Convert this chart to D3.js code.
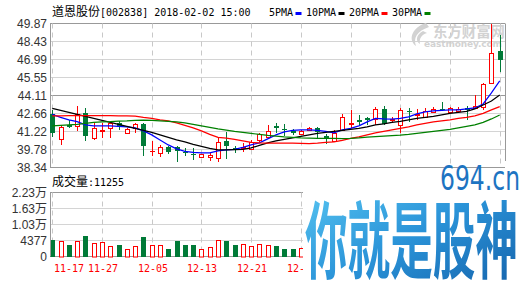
<!DOCTYPE html>
<html>
<head>
<meta charset="utf-8">
<script src="https://cdn.jsdelivr.net/npm/d3@7"></script>
<style>
body { margin: 0; background: #fff; }
</style>
</head>
<body>
<div id="chart"></div>
<script>
var dates = ["11-17","11-20","11-21","11-22","11-23","11-24","11-27","11-28","11-29","11-30",
  "12-01","12-04","12-05","12-06","12-07","12-08","12-11","12-12","12-13","12-14",
  "12-15","12-18","12-19","12-20","12-21","12-22","12-25","12-26","12-27","12-28",
  "12-29","01-02","01-03","01-04","01-05","01-08","01-09","01-10","01-11","01-12",
  "01-15","01-16","01-17","01-18","01-19","01-22","01-23","01-24","01-25","01-26",
  "01-29","01-30","01-31","02-01","02-02"];

var open  = [42.63,40.61,41.75,41.67,42.69,40.69,41.27,41.49,41.91,41.11,
  41.49,41.81,39.65,39.49,40.01,39.95,39.60,39.40,39.17,39.17,
  39.09,40.47,39.90,39.92,39.85,40.53,40.79,41.67,41.43,41.27,
  41.05,41.35,41.49,40.87,40.45,41.35,41.81,42.15,42.29,42.23,
  43.03,42.13,41.75,42.90,42.53,42.41,42.81,43.03,42.81,42.87,
  43.13,43.09,43.21,45.13,47.69];
var high  = [42.95,41.75,42.15,43.27,43.09,41.89,41.89,42.01,42.09,41.50,
  41.90,41.90,40.47,40.15,40.05,40.10,39.90,39.90,39.45,39.53,
  40.69,41.21,40.07,40.30,40.55,41.11,41.75,41.93,41.81,41.43,
  41.35,41.55,41.55,41.00,41.35,42.61,42.95,42.51,42.35,43.21,
  43.29,42.39,43.09,43.13,43.01,43.09,43.15,43.61,43.20,43.15,
  43.27,44.15,45.10,49.80,48.95];
var low   = [40.79,40.15,41.51,41.29,40.49,40.55,40.69,40.69,41.35,41.05,
  41.09,39.27,39.27,39.21,39.45,38.81,39.25,38.95,39.10,38.89,
  38.81,39.01,39.49,39.57,39.75,40.39,40.71,41.09,40.87,40.93,
  40.95,41.30,40.73,40.20,40.40,41.27,41.49,41.67,41.75,41.75,
  41.75,41.91,41.09,42.01,42.15,42.29,42.70,42.85,42.75,42.69,
  42.15,43.01,42.95,45.03,46.01];
var close = [41.13,41.57,41.61,42.63,40.89,41.49,41.35,41.89,41.55,41.43,
  41.81,40.09,39.70,39.97,39.55,39.63,39.55,39.36,39.41,39.35,
  40.37,40.09,39.85,39.97,40.37,41.01,41.27,41.53,41.35,41.09,
  41.27,41.49,41.21,40.61,41.11,42.41,41.87,41.99,42.17,43.03,
  41.81,42.21,42.93,42.83,42.61,42.87,43.03,42.91,43.09,43.00,
  42.95,43.29,45.03,47.49,46.95];

var ma5  = [42.59,42.35,42.15,42.01,41.75,41.67,41.67,41.67,41.63,41.59,
  41.51,41.27,40.95,40.55,40.15,39.83,39.63,39.55,39.51,39.51,
  39.67,39.75,39.79,39.95,40.15,40.31,40.63,40.95,41.19,41.31,
  41.35,41.35,41.31,41.23,41.11,41.35,41.47,41.67,41.99,42.27,
  42.23,42.21,42.27,42.39,42.63,42.79,42.87,42.91,42.95,42.95,
  43.03,43.11,43.43,44.31,45.27];
var ma10 = [43.07,42.91,42.75,42.59,42.43,42.27,42.11,41.95,41.79,41.63,
  41.47,41.31,41.15,40.95,40.75,40.55,40.39,40.19,40.03,39.87,
  39.75,39.75,39.77,39.79,39.91,40.11,40.31,40.47,40.59,40.71,
  40.83,40.95,41.07,41.15,41.23,41.31,41.39,41.47,41.59,41.75,
  41.83,41.95,42.03,42.15,42.27,42.35,42.43,42.55,42.67,42.75,
  42.83,43.03,43.35,43.67,44.15];
var ma20 = [42.47,42.47,42.49,42.49,42.49,42.49,42.49,42.49,42.47,42.47,
  42.45,42.35,42.27,42.15,42.07,41.91,41.71,41.51,41.27,40.99,
  40.75,40.69,40.59,40.47,40.35,40.31,40.29,40.29,40.29,40.29,
  40.27,40.25,40.29,40.35,40.39,40.51,40.67,40.79,40.95,41.11,
  41.23,41.35,41.47,41.59,41.75,41.87,41.99,42.07,42.15,42.27,
  42.35,42.47,42.67,42.95,43.21];
var ma30 = [41.67,41.71,41.75,41.79,41.87,41.95,41.99,42.01,42.05,42.07,
  42.11,42.13,42.11,42.07,42.03,41.99,41.91,41.79,41.67,41.55,
  41.43,41.33,41.23,41.15,41.07,40.99,40.91,40.85,40.79,40.75,
  40.71,40.69,40.67,40.67,40.67,40.65,40.67,40.71,40.77,40.81,
  40.85,40.89,40.93,40.99,41.07,41.15,41.23,41.31,41.39,41.51,
  41.63,41.75,41.95,42.23,42.55];

// only the first 31 bars are visible, the rest sit under the watermark
var volume = [6280,5910,4430,5910,7500,5060,5430,4070,4430,2960,
  4070,7130,4430,4430,2960,5910,4180,4180,2960,3700,
  6280,5650,4180,4800,4070,4800,4180,3810,2960,2960,3220];
var lastVolume = 11255;

var priceTicks = [38.34, 39.78, 41.22, 42.66, 44.11, 45.55, 46.99, 48.43, 49.87];
var volTicks = [0, 5960, 11920, 17880, 23840];
var volTickLabels = ["0", "4377", "1.03万", "1.63万", "2.23万"];
var maNames = ["5PMA", "10PMA", "20PMA", "30PMA"];
var maColors = ["#0000ff", "#000000", "#ff0000", "#008000"];

var width = 529, height = 281;
var left = 50, right = 505, pTop = 23.5, pBottom = 167.5, vTop = 192.5, vBottom = 256.5;
var coverX = 303, coverY = 161;
var red = "#ff0000", green = "#007a37";
var mono = "'DejaVu Sans Mono', 'Liberation Mono', monospace";
var cjk = "'Noto Sans CJK SC', sans-serif";

var svg = d3.select("#chart").append("svg")
    .attr("width", width)
    .attr("height", height)
    .style("display", "block");

var x = d3.scalePoint().domain(dates).range([52.3, 499.7]);
var y = d3.scaleLinear().domain([38.34, 49.87]).range([pBottom, pTop]);
var yv = d3.scaleLinear().domain([0, 23840]).range([vBottom, vTop]);

var tickDates = dates.filter(function(d, i) { return i % 6 == 0; });

var defs = svg.append("defs");
defs.append("clipPath").attr("id", "lowclip")
  .append("rect").attr("x", 0).attr("y", coverY).attr("width", coverX).attr("height", height - coverY);

// grid - price panel
svg.selectAll(".hgrid").data(priceTicks).enter().append("line")
    .attr("x1", left).attr("x2", right)
    .attr("y1", function(d) { return Math.round(y(d) - 0.5) + 0.5; })
    .attr("y2", function(d) { return Math.round(y(d) - 0.5) + 0.5; })
    .attr("stroke", function(d, i) { return (i == 0 || i == 4 || i == 8) ? "#999" : "#d4d4d4"; });

svg.selectAll(".vgrid").data(tickDates).enter().append("line")
    .attr("x1", function(d) { return Math.round(x(d)) + 0.5; })
    .attr("x2", function(d) { return Math.round(x(d)) + 0.5; })
    .attr("y1", pTop).attr("y2", pBottom)
    .attr("stroke", "#c8c8c8")
    .attr("stroke-dasharray", "5,4");

// lower part: everything right of coverX is hidden by the watermark
var lowG = svg.append("g").attr("clip-path", "url(#lowclip)");

lowG.selectAll(".vhgrid").data(volTicks).enter().append("line")
    .attr("x1", left).attr("x2", right)
    .attr("y1", function(d) { return Math.round(yv(d) - 0.5) + 0.5; })
    .attr("y2", function(d) { return Math.round(yv(d) - 0.5) + 0.5; })
    .attr("stroke", function(d, i) { return (i == 0 || i == 4) ? "#999" : "#d4d4d4"; });

lowG.selectAll(".vvgrid").data(tickDates).enter().append("line")
    .attr("x1", function(d) { return Math.round(x(d)) + 0.5; })
    .attr("x2", function(d) { return Math.round(x(d)) + 0.5; })
    .attr("y1", vTop).attr("y2", vBottom)
    .attr("stroke", "#c8c8c8")
    .attr("stroke-dasharray", "5,4");

// panel borders
svg.append("line").attr("x1", left + 0.5).attr("x2", left + 0.5).attr("y1", pTop).attr("y2", pBottom).attr("stroke", "#999");
svg.append("line").attr("x1", right + 0.5).attr("x2", right + 0.5).attr("y1", pTop).attr("y2", coverY).attr("stroke", "#999");
svg.append("line").attr("x1", left + 0.5).attr("x2", left + 0.5).attr("y1", vTop).attr("y2", vBottom).attr("stroke", "#999");

// eastmoney logo
var logo = svg.append("g").attr("fill", "#d2d2d2");
logo.append("path").attr("d", "M426,23 C413,27 407,39 416,46 C413,38 417,31 429,27 Z M423,31 C416,35 415,41 420,44 C419,39 421,35 427,33 Z");
logo.append("text").attr("x", 433).attr("y", 37)
    .style("font-family", cjk).style("font-size", "15px").style("font-weight", "bold")
    .attr("textLength", 72).attr("lengthAdjust", "spacingAndGlyphs")
    .text("东方财富网");
logo.append("text").attr("x", 424).attr("y", 47)
    .style("font-family", "'DejaVu Sans', sans-serif").style("font-size", "9px").style("font-weight", "bold")
    .attr("textLength", 78).attr("lengthAdjust", "spacing")
    .text("eastmoney.com");

// candles
var candles = dates.map(function(d, i) {
  return {date: d, o: open[i], h: high[i], l: low[i], c: close[i], up: close[i] >= open[i]};
});

var cg = svg.selectAll(".candle").data(candles).enter().append("g").attr("class", "candle");

cg.append("line")
    .attr("x1", function(d) { return Math.round(x(d.date)) + 0.5; })
    .attr("x2", function(d) { return Math.round(x(d.date)) + 0.5; })
    .attr("y1", function(d) { return Math.round(y(d.h)); })
    .attr("y2", function(d) { return Math.round(y(d.l)); })
    .attr("stroke", function(d) { return d.up ? red : green; });

cg.append("rect")
    .attr("x", function(d) { return Math.round(x(d.date)) + (d.up ? -1.5 : -2); })
    .attr("y", function(d) { return Math.round(y(Math.max(d.o, d.c))) + (d.up ? 0.5 : 0); })
    .attr("width", function(d) { return d.up ? 4 : 5; })
    .attr("height", function(d) {
      var hgt = Math.round(y(Math.min(d.o, d.c))) - Math.round(y(Math.max(d.o, d.c)));
      return d.up ? Math.max(hgt, 0.01) : Math.max(hgt, 1);
    })
    .attr("fill", function(d) { return d.up ? "#fff" : green; })
    .attr("stroke", function(d) { return d.up ? red : "none"; });

// moving averages
var maData = [ma5, ma10, ma20, ma30];
var line = d3.line()
    .x(function(d, i) { return x(dates[i]); })
    .y(function(d) { return y(d); });

svg.selectAll(".ma").data(maData).enter().append("path")
    .attr("d", line)
    .attr("fill", "none")
    .attr("stroke", function(d, i) { return maColors[i]; })
    .attr("stroke-width", 1.2);

// volume bars
lowG.selectAll(".vol").data(volume).enter().append("rect")
    .attr("x", function(d, i) { return Math.round(x(dates[i])) + (candles[i].up ? -1.5 : -2); })
    .attr("y", function(d, i) { return Math.round(yv(d)) + (candles[i].up ? 0.5 : 0); })
    .attr("width", function(d, i) { return candles[i].up ? 4 : 5; })
    .attr("height", function(d, i) { return Math.round(vBottom) - Math.round(yv(d)) - (candles[i].up ? 0.5 : 0); })
    .attr("fill", function(d, i) { return candles[i].up ? "#fff" : green; })
    .attr("stroke", function(d, i) { return candles[i].up ? red : "none"; });

// axis labels
svg.selectAll(".plabel").data(priceTicks).enter().append("text")
    .attr("x", 47).attr("y", function(d) { return y(d); })
    .attr("dy", "0.35em")
    .attr("text-anchor", "end")
    .style("font-family", "'Liberation Sans', Arial, sans-serif")
    .style("font-size", "12px")
    .attr("fill", "#333")
    .text(function(d) { return d.toFixed(2); });

svg.selectAll(".vlabel").data(volTicks).enter().append("text")
    .attr("x", 47).attr("y", function(d) { return yv(d); })
    .attr("dy", "0.35em")
    .attr("text-anchor", "end")
    .style("font-family", "'Liberation Sans', 'Noto Sans CJK SC', sans-serif")
    .style("font-size", "12px")
    .attr("fill", "#333")
    .text(function(d, i) { return volTickLabels[i]; });

// date labels past the watermark edge are not drawn at all
lowG.selectAll(".xlabel").data(tickDates.filter(function(d) { return x(d) - 15 < coverX; }))
  .enter().append("text")
    .attr("x", function(d, i) { return i == 0 ? 54 : Math.round(x(d)) + 1; })
    .attr("y", 271.5)
    .attr("text-anchor", function(d, i) { return i == 0 ? "start" : "middle"; })
    .style("font-family", mono)
    .style("font-size", "10px")
    .attr("fill", red)
    .text(function(d) { return d; });

// title
var title = svg.append("text").attr("x", 52).attr("y", 16).attr("fill", "#000");
title.append("tspan").style("font-family", cjk).style("font-size", "12px").text("道恩股份");
title.append("tspan").style("font-family", mono).style("font-size", "10px").text("[002838] 2018-02-02 15:00");

// legend
var lx = 269;
maNames.forEach(function(name, i) {
  svg.append("text").attr("x", lx).attr("y", 15.5)
      .style("font-family", mono).style("font-size", "10px")
      .attr("fill", "#000").text(name);
  var rx = lx + name.length * 6 + 2.5;
  svg.append("rect").attr("x", rx).attr("y", 12).attr("width", 6).attr("height", 3)
      .attr("fill", maColors[i]);
  lx = rx + 6 + 4.5;
});

// volume caption
var vt = svg.append("text").attr("x", 52).attr("y", 185.5).attr("fill", "#000");
vt.append("tspan").style("font-family", cjk).style("font-size", "12px").text("成交量");
vt.append("tspan").style("font-family", mono).style("font-size", "10px").text(":" + lastVolume);

// watermark
var grad = defs.append("linearGradient").attr("id", "wm")
    .attr("x1", "0").attr("y1", "0").attr("x2", "1").attr("y2", "1");
grad.append("stop").attr("offset", "0").attr("stop-color", "#5ccaf4");
grad.append("stop").attr("offset", "0.5").attr("stop-color", "#2a93d8");
grad.append("stop").attr("offset", "1").attr("stop-color", "#135fa8");

svg.append("text").attr("x", 440).attr("y", 190)
    .style("font-family", "'DejaVu Sans', sans-serif").style("font-size", "34px")
    .attr("textLength", 80).attr("lengthAdjust", "spacingAndGlyphs")
    .attr("fill", "#1d74c2")
    .text("694.cn");

svg.append("text").attr("x", 305).attr("y", 272)
    .style("font-family", cjk).style("font-size", "84px").style("font-weight", "bold")
    .attr("textLength", 213).attr("lengthAdjust", "spacingAndGlyphs")
    .attr("fill", "url(#wm)")
    .text("你就是股神");
</script>
</body>
</html>
